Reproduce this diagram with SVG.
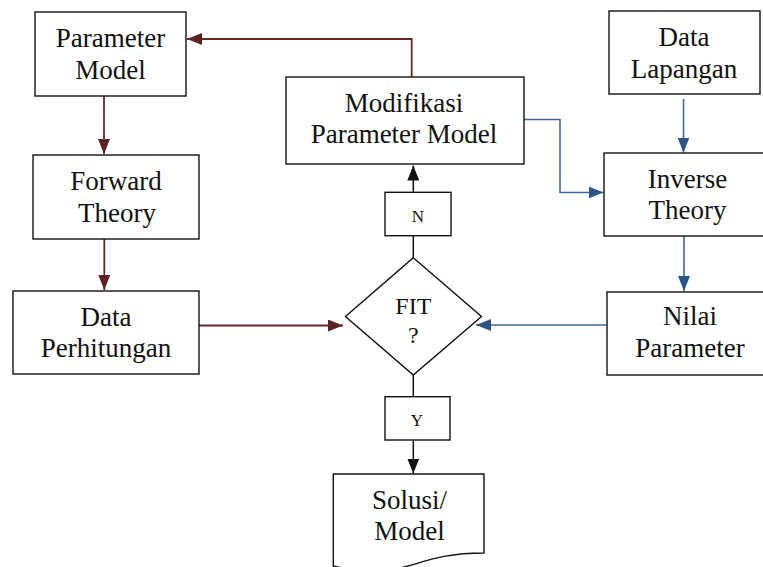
<svg xmlns="http://www.w3.org/2000/svg" width="763" height="567" viewBox="0 0 763 567">
<style>
.box{fill:#fff;stroke:#111;stroke-width:1.4}
.t,.s,.f{font-family:'Liberation Serif',Tinos,'Times New Roman',Times,'DejaVu Serif',serif;fill:#111;text-anchor:middle}
.t{font-size:27px}
.s{font-size:17px}
.f{font-size:24px}
.red{fill:none;stroke:#6A2828;stroke-width:1.8}
.blue{fill:none;stroke:#41689A;stroke-width:1.6}
.blk{fill:none;stroke:#111;stroke-width:1.5}
</style>
<defs>
<marker id="ar" markerUnits="userSpaceOnUse" markerWidth="15" markerHeight="12" refX="15" refY="6" orient="auto"><path d="M0,0 L15,6 L0,12 z" fill="#5E2222"/></marker>
<marker id="ab" markerUnits="userSpaceOnUse" markerWidth="15" markerHeight="12" refX="15" refY="6" orient="auto"><path d="M0,0 L15,6 L0,12 z" fill="#2E5486"/></marker>
<marker id="ak" markerUnits="userSpaceOnUse" markerWidth="15" markerHeight="12" refX="15" refY="6" orient="auto"><path d="M0,0 L15,6 L0,12 z" fill="#111"/></marker>
</defs>
<rect width="763" height="567" fill="#fff"/>
<g id="connectors">
<path class="red" d="M411.7,77 V39 H187" marker-end="url(#ar)"/>
<path class="red" d="M104,96 V154" marker-end="url(#ar)"/>
<path class="red" d="M104.3,239 V290" marker-end="url(#ar)"/>
<path class="red" d="M199,325.5 H343" marker-end="url(#ar)"/>
<path class="blue" d="M683.5,99 V152.5" marker-end="url(#ab)"/>
<path class="blue" d="M524,119.5 H560 V192.5 H603.5" marker-end="url(#ab)"/>
<path class="blue" d="M684,236 V291" marker-end="url(#ab)"/>
<path class="blue" d="M607,325 H476" marker-end="url(#ab)"/>
<path class="blk" d="M413.3,257.7 V235.7"/>
<path class="blk" d="M413.3,192.3 V165.5" marker-end="url(#ak)"/>
<path class="blk" d="M413.3,375 V396.7"/>
<path class="blk" d="M413.3,440 V473.5" marker-end="url(#ak)"/>
</g>
<g id="parameter-model">
<rect class="box" x="35" y="12" width="151" height="84"/>
<text class="t" x="110.5" y="47">Parameter</text>
<text class="t" x="110.5" y="79">Model</text>
</g>
<g id="forward-theory">
<rect class="box" x="33" y="155" width="166" height="84"/>
<text class="t" x="116" y="190">Forward</text>
<text class="t" x="117" y="221.5">Theory</text>
</g>
<g id="data-perhitungan">
<rect class="box" x="13" y="291" width="186" height="83"/>
<text class="t" x="106" y="326">Data</text>
<text class="t" x="106" y="357">Perhitungan</text>
</g>
<g id="modifikasi">
<rect class="box" x="286" y="77" width="238" height="87"/>
<text class="t" x="404" y="111.7">Modifikasi</text>
<text class="t" x="404" y="142.7">Parameter Model</text>
</g>
<g id="data-lapangan">
<rect class="box" x="609" y="11" width="151" height="83"/>
<text class="t" x="684" y="45.7">Data</text>
<text class="t" x="684" y="77.7">Lapangan</text>
</g>
<g id="inverse-theory">
<rect class="box" x="604" y="153" width="170" height="83"/>
<text class="t" x="687.5" y="187.5">Inverse</text>
<text class="t" x="687.5" y="219">Theory</text>
</g>
<g id="nilai-parameter">
<rect class="box" x="607" y="292" width="170" height="83"/>
<text class="t" x="690" y="325">Nilai</text>
<text class="t" x="690" y="357.3">Parameter</text>
</g>
<g id="fit">
<path class="box" d="M413.3,257.7 L481.5,316.5 L413.3,375 L345.5,316.5 Z"/>
<text class="f" x="413.3" y="314">FIT</text>
<text class="f" x="413.3" y="343">?</text>
</g>
<g id="label-n">
<rect class="box" x="385" y="192.3" width="66" height="43.4"/>
<text class="s" x="418" y="221.7">N</text>
</g>
<g id="label-y">
<rect class="box" x="385" y="396.7" width="65" height="43.3"/>
<text class="s" x="417" y="425.7">Y</text>
</g>
<g id="solusi-model">
<path class="box" d="M333.3,474 H484 V553 C408.5,553 408.5,583 333.3,566 Z"/>
<text class="t" x="409.5" y="508.5">Solusi/</text>
<text class="t" x="409.5" y="540">Model</text>
</g>
</svg>
